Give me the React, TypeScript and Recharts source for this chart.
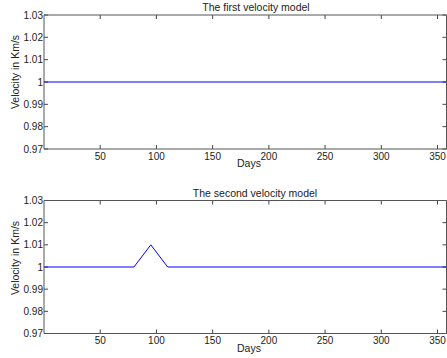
import React from 'react';
import { LineChart, Line, XAxis, YAxis, ReferenceLine } from 'recharts';

const daysFirst = [0, 358];
const velocityFirst = [1, 1];
const daysSecond = [0, 80, 95, 110, 358];
const velocitySecond = [1, 1, 1.01, 1, 1];
const xTicks = [50, 100, 150, 200, 250, 300, 350];
const yTicks = [0.97, 0.98, 0.99, 1, 1.01, 1.02, 1.03];
const titles = ['The first velocity model', 'The second velocity model'];
const xLabel = 'Days';
const yLabel = 'Velocity in Km/s';

const X_DOMAIN: [number, number] = [0, 358];
const Y_DOMAIN: [number, number] = [0.97, 1.03];

const FONT = "'Liberation Sans', Arial, sans-serif";
const AXIS = '#555';
const TICKC = '#444';
const TEXT = '#222';
const CHART_W = 447;
const CHART_H = 172;
const Y_W = 44;
const RIGHT = 0.5;
const PLOT_W = CHART_W - Y_W - RIGHT;
const TICK_PX = 4;

const fmtY = (v: number) => (Math.abs(v - 1) < 1e-9 ? '1' : v.toFixed(2));

function Panel({ days, vel, top, marginTop, tickMargin, xAxisH }: { days: number[]; vel: number[]; top: number; marginTop: number; tickMargin: number; xAxisH: number }) {
  const data = days.map((d, i) => ({ day: d, v: vel[i] }));
  const plotH = CHART_H - marginTop - xAxisH;
  const yLen = ((Y_DOMAIN[1] - Y_DOMAIN[0]) * TICK_PX) / plotH;
  const xLen = ((X_DOMAIN[1] - X_DOMAIN[0]) * TICK_PX) / PLOT_W;
  return (
    <div style={{ position: 'absolute', left: 0, top, width: CHART_W, height: CHART_H }}>
      <LineChart width={CHART_W} height={CHART_H} data={data} margin={{ top: marginTop, right: RIGHT, bottom: 0, left: 0 }}>
        <XAxis
          xAxisId="xt"
          dataKey="day"
          type="number"
          domain={X_DOMAIN}
          allowDataOverflow
          orientation="top"
          mirror
          tick={false}
          tickLine={false}
          axisLine={{ stroke: AXIS }}
        />
        <YAxis
          yAxisId="yr"
          type="number"
          domain={Y_DOMAIN}
          allowDataOverflow
          orientation="right"
          mirror
          tick={false}
          tickLine={false}
          axisLine={{ stroke: AXIS }}
        />
        <XAxis
          xAxisId="x"
          dataKey="day"
          type="number"
          domain={X_DOMAIN}
          allowDataOverflow
          ticks={xTicks}
          interval={0}
          orientation="bottom"
          height={xAxisH}
          tickLine={false}
          tickSize={0}
          tickMargin={tickMargin}
          axisLine={{ stroke: AXIS }}
          tick={{ fontSize: 10, fill: TEXT, fontFamily: FONT }}
        />
        <YAxis
          yAxisId="y"
          type="number"
          domain={Y_DOMAIN}
          allowDataOverflow
          ticks={yTicks}
          interval={0}
          width={Y_W}
          tickFormatter={fmtY}
          tickLine={false}
          tickSize={0}
          tickMargin={1}
          axisLine={{ stroke: AXIS }}
          tick={{ fontSize: 10, fill: TEXT, fontFamily: FONT }}
        />
        {xTicks.map((t) => (
          <ReferenceLine
            key={`xb${t}`}
            xAxisId="x"
            yAxisId="y"
            segment={[{ x: t, y: Y_DOMAIN[0] }, { x: t, y: Y_DOMAIN[0] + yLen }]}
            stroke={TICKC}
            ifOverflow="extendDomain"
          />
        ))}
        {xTicks.map((t) => (
          <ReferenceLine
            key={`xt${t}`}
            xAxisId="x"
            yAxisId="y"
            segment={[{ x: t, y: Y_DOMAIN[1] }, { x: t, y: Y_DOMAIN[1] - yLen }]}
            stroke={TICKC}
            ifOverflow="extendDomain"
          />
        ))}
        {yTicks.map((t) => (
          <ReferenceLine
            key={`yl${t}`}
            xAxisId="x"
            yAxisId="y"
            segment={[{ x: X_DOMAIN[0], y: t }, { x: X_DOMAIN[0] + xLen, y: t }]}
            stroke={TICKC}
            ifOverflow="extendDomain"
          />
        ))}
        {yTicks.map((t) => (
          <ReferenceLine
            key={`yr${t}`}
            xAxisId="x"
            yAxisId="y"
            segment={[{ x: X_DOMAIN[1], y: t }, { x: X_DOMAIN[1] - xLen, y: t }]}
            stroke={TICKC}
            ifOverflow="extendDomain"
          />
        ))}
        <Line
          xAxisId="x"
          yAxisId="y"
          dataKey="v"
          stroke="#0000ff"
          strokeWidth={1}
          dot={false}
          activeDot={false}
          isAnimationActive={false}
          type="linear"
        />
      </LineChart>
    </div>
  );
}

export default function App() {
  return (
    <div style={{ position: 'absolute', left: 0, top: 0, width: 447, height: 358, overflow: 'hidden', background: '#fff' }}>
      <Panel days={daysFirst} vel={velocityFirst} top={0} marginTop={15} tickMargin={4} xAxisH={23} />
      <Panel days={daysSecond} vel={velocitySecond} top={186} marginTop={14.5} tickMargin={3} xAxisH={24.5} />
      <svg width={447} height={358} style={{ position: 'absolute', left: 0, top: 0, pointerEvents: 'none' }}>
        <g fontFamily={FONT} fill={TEXT}>
          <text x={256} y={11} fontSize={10.5} textAnchor="middle">{titles[0]}</text>
          <text x={249} y={166.5} fontSize={10.5} textAnchor="middle">{xLabel}</text>
          <text transform="translate(19,72) rotate(-90)" fontSize={10.5} textAnchor="middle">{yLabel}</text>
          <text x={255} y={197} fontSize={10.5} textAnchor="middle">{titles[1]}</text>
          <text x={249} y={352} fontSize={10.5} textAnchor="middle">{xLabel}</text>
          <text transform="translate(19,258) rotate(-90)" fontSize={10.5} textAnchor="middle">{yLabel}</text>
        </g>
      </svg>
    </div>
  );
}
